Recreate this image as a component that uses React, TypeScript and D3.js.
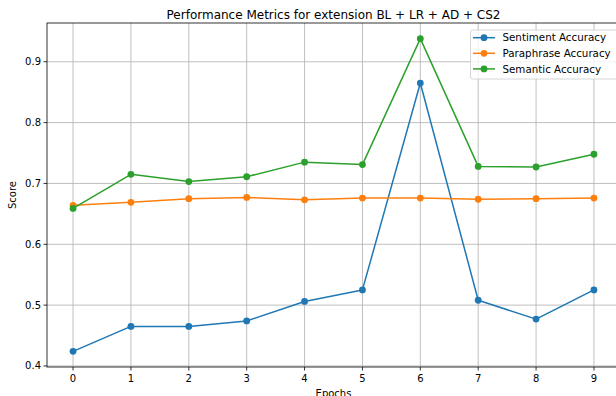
import React from 'react';
import * as d3 from 'd3';

const epochs = [0, 1, 2, 3, 4, 5, 6, 7, 8, 9];
const sentiment = [0.424, 0.465, 0.465, 0.474, 0.506, 0.525, 0.865, 0.508, 0.477, 0.525];
const paraphrase = [0.664, 0.669, 0.675, 0.677, 0.673, 0.676, 0.676, 0.674, 0.675, 0.676];
const semantic = [0.659, 0.715, 0.703, 0.711, 0.735, 0.731, 0.938, 0.728, 0.727, 0.748];
const yTicks = [0.4, 0.5, 0.6, 0.7, 0.8, 0.9];

const series = [
  { name: 'Sentiment Accuracy', color: '#1f77b4', values: sentiment },
  { name: 'Paraphrase Accuracy', color: '#ff7f0e', values: paraphrase },
  { name: 'Semantic Accuracy', color: '#2ca02c', values: semantic },
];

const W = 616;
const H = 396;
const margin = { top: 23, right: -4, bottom: 29, left: 47 };
const FONT = 'DejaVu Sans, sans-serif';

export default function App() {
  const iw = W - margin.left - margin.right;
  const ih = H - margin.top - margin.bottom;

  const x = d3.scaleLinear().domain([-0.45, 9.45]).range([0, iw]);
  const allVals = series.flatMap(s => s.values);
  const lo = d3.min(allVals)!;
  const hi = d3.max(allVals)!;
  const pad = (hi - lo) * 0.05;
  const y = d3.scaleLinear().domain([lo - pad, hi + pad]).range([ih, 0]);

  const line = d3.line<number>()
    .x((_, i) => x(epochs[i]))
    .y(d => y(d));

  return (
    <div style={{ position: 'fixed', left: 0, top: 0, width: W, height: H, background: '#fff' }}>
      <svg width={W} height={H} style={{ display: 'block' }} fontFamily={FONT}>
        <rect width={W} height={H} fill="#fff" />
        <text x={margin.left + iw / 2} y={19} textAnchor="middle" fontSize={12} fill="#000">
          Performance Metrics for extension BL + LR + AD + CS2
        </text>
        <g transform={`translate(${margin.left},${margin.top})`}>
          {/* grid */}
          {epochs.map(e => (
            <line key={`gx${e}`} x1={x(e)} x2={x(e)} y1={0} y2={ih} stroke="#b0b0b0" strokeWidth={0.8} />
          ))}
          {yTicks.map(t => (
            <line key={`gy${t}`} x1={0} x2={iw} y1={y(t)} y2={y(t)} stroke="#b0b0b0" strokeWidth={0.8} />
          ))}

          {/* series */}
          {series.map(s => (
            <g key={s.name}>
              <path d={line(s.values)!} fill="none" stroke={s.color} strokeWidth={1.5} strokeLinejoin="round" />
              {s.values.map((v, i) => (
                <circle key={i} cx={x(epochs[i])} cy={y(v)} r={3.4} fill={s.color} />
              ))}
            </g>
          ))}

          {/* spines */}
          <rect x={0} y={0} width={iw} height={ih} fill="none" stroke="#000" strokeWidth={0.8} />

          {/* x ticks */}
          {epochs.map(e => (
            <g key={`xt${e}`} transform={`translate(${x(e)},${ih})`}>
              <line y2={3.5} stroke="#000" strokeWidth={0.8} />
              <text y={15} textAnchor="middle" fontSize={10} fill="#000">{e}</text>
            </g>
          ))}
          {/* y ticks */}
          {yTicks.map(t => (
            <g key={`yt${t}`} transform={`translate(0,${y(t)})`}>
              <line x2={-3.5} stroke="#000" strokeWidth={0.8} />
              <text x={-6} dy="0.35em" textAnchor="end" fontSize={10} fill="#000">{t.toFixed(1)}</text>
            </g>
          ))}

          {/* legend */}
          <g transform={`translate(${470.5 - margin.left},${30 - margin.top})`}>
            <rect x={0} y={0} width={160} height={49} rx={2} fill="#fff" fillOpacity={0.8} stroke="#cccccc" strokeWidth={0.8} />
            {series.map((s, i) => (
              <g key={s.name} transform={`translate(0,${7.7 + i * 15.6})`}>
                <line x1={2.5} x2={24.5} stroke={s.color} strokeWidth={1.5} />
                <circle cx={13.5} r={3.4} fill={s.color} />
                <text x={32} dy="0.35em" fontSize={10.3} fill="#000">{s.name}</text>
              </g>
            ))}
          </g>
        </g>
        <text x={margin.left + x(4.5)} y={H + 0.5} textAnchor="middle" fontSize={10} fill="#000">Epochs</text>
        <text transform={`translate(16,${margin.top + ih / 2}) rotate(-90)`} textAnchor="middle" fontSize={10} fill="#000">Score</text>
      </svg>
    </div>
  );
}
